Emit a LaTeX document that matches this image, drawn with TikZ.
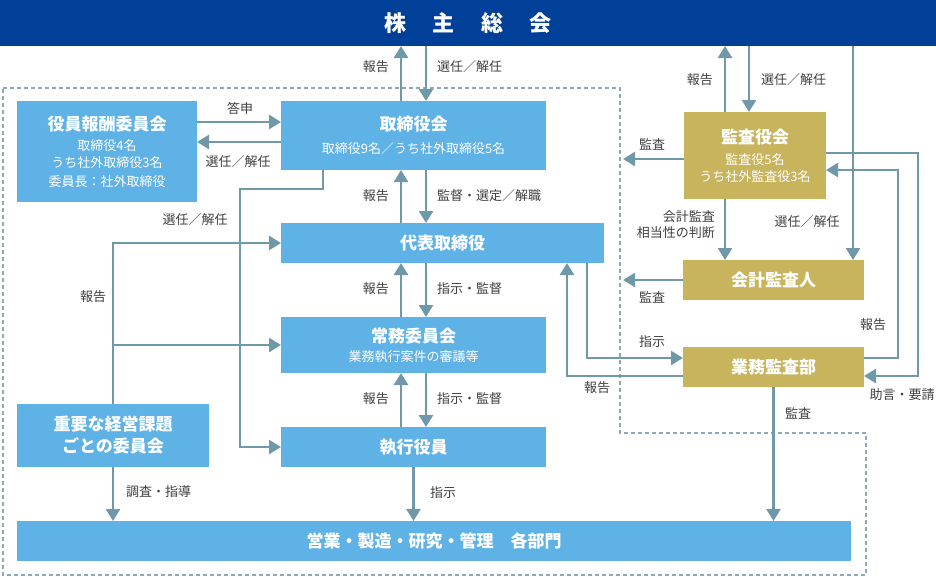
\documentclass[tikz,border=0pt]{standalone}
\usepackage{fontspec}
\setmainfont{Noto Sans CJK JP}
\usepackage{tikz}
\usetikzlibrary{arrows.meta}
\definecolor{navy}{HTML}{004098}
\definecolor{sky}{HTML}{5EB2E6}
\definecolor{gold}{HTML}{C8B45C}
\definecolor{steel}{HTML}{6F98A8}
\definecolor{ink}{HTML}{3F3F3F}
\definecolor{frameline}{HTML}{8CAAB9}
\newcommand\boxtitle[1]{{\fontsize{17}{20}\selectfont\bfseries #1}}

\begin{document}
\begin{tikzpicture}[x=1pt,y=-1pt,
  box/.style={fill=sky,text=white,inner sep=0pt,outer sep=0pt,align=center,
    font=\fontsize{13}{17}\selectfont},
  gbox/.style={box,fill=gold},
  arr/.style={draw=steel,line width=2.6pt,-{Triangle[width=14pt,length=12pt]}},
  lbl/.style={text=ink,inner sep=0pt,align=right,font=\fontsize{13}{16}\selectfont},
  frame/.style={draw=frameline,line width=1.2pt,dash pattern=on 4pt off 3pt}]
\useasboundingbox (0,0) rectangle (936,576);
\draw[frame] (3,88) -- (620,88) -- (620,433) -- (866,433) -- (866,575) -- (3,575) -- cycle;

\node[box,fill=navy,minimum width=936pt,minimum height=46pt] (gm) at (468,23)
  {\fontsize{22}{24}\selectfont\bfseries 株\hspace{1.2em}主\hspace{1.2em}総\hspace{1.2em}会};
\node[box,minimum width=180pt,minimum height=101pt] (remun) at (107,151.5)
  {\boxtitle{役員報酬委員会}\\[3pt]取締役4名\\うち社外取締役3名\\[2pt]委員長：社外取締役};
\node[box,minimum width=265pt,minimum height=69pt] (board) at (413.5,135.5)
  {\boxtitle{取締役会}\\[6pt]取締役9名／うち社外取締役5名};
\node[box,minimum width=323pt,minimum height=40pt] (rep) at (442.5,243) {\boxtitle{代表取締役}};
\node[box,minimum width=265pt,minimum height=56pt] (exec) at (413.5,345)
  {\boxtitle{常務委員会}\\[2pt]業務執行案件の審議等};
\node[box,minimum width=265pt,minimum height=40pt] (officer) at (413.5,447) {\boxtitle{執行役員}};
\node[box,minimum width=192pt,minimum height=63pt] (issues) at (113,435.5)
  {\boxtitle{重要な経営課題}\\[5pt]\boxtitle{ごとの委員会}};
\node[box,minimum width=834pt,minimum height=40pt] (depts) at (434,541)
  {\boxtitle{営業・製造・研究・管理　各部門}};
\node[gbox,minimum width=142pt,minimum height=87pt] (audit) at (755,155.5)
  {\boxtitle{監査役会}\\[4pt]監査役5名\\うち社外監査役3名};
\node[gbox,minimum width=181pt,minimum height=40pt] (acct) at (773.5,280) {\boxtitle{会計監査人}};
\node[gbox,minimum width=181pt,minimum height=40pt] (internal) at (773.5,367) {\boxtitle{業務監査部}};

\coordinate (up) at (401,0);
\coordinate (dn) at (426,0);
\coordinate (aup) at (725,0);
\coordinate (adn) at (749,0);
\coordinate (acol) at (853,0);
\coordinate (pick) at (323,0);
\coordinate (ans) at (0,122);
\coordinate (ret) at (0,142);
\coordinate (aud) at (623,159);
\coordinate (advs) at (0,153);
\coordinate (adv) at (918,376);
\coordinate (arpt) at (898,170);
\coordinate (irpt) at (0,358);
\coordinate (cmd) at (587,358);
\coordinate (back) at (567,376);

\draw[arr] (board.north -| up) -- (gm.south -| up);
\draw[arr] (gm.south -| dn) -- (board.north -| dn);
\draw[arr] (rep.north -| up) -- (board.south -| up);
\draw[arr] (board.south -| dn) -- (rep.north -| dn);
\draw[arr] (exec.north -| up) -- (rep.south -| up);
\draw[arr] (rep.south -| dn) -- (exec.north -| dn);
\draw[arr] (officer.north -| up) -- (exec.south -| up);
\draw[arr] (exec.south -| dn) -- (officer.north -| dn);
\draw[arr] (officer.south) -- (depts.north -| officer.south);
\draw[arr] (remun.east |- ans) -- (board.west |- ans);
\draw[arr] (board.west |- ret) -- (remun.east |- ret);
\draw[arr] (board.south -| pick) -- ++(0,19) -- ++(-83,0) |- (officer.west);
\draw[arr] (issues.north) |- (rep.west);
\draw[arr] (issues.north) |- (exec.west);
\draw[arr] (issues.south) -- (depts.north -| issues.south);
\draw[arr] (audit.north -| aup) -- (gm.south -| aup);
\draw[arr] (gm.south -| adn) -- (audit.north -| adn);
\draw[arr] (gm.south -| acol) -- (acct.north -| acol);
\draw[arr] (audit.south -| aup) -- (acct.north -| aup);
\draw[arr] (audit.west |- aud) -- (aud);
\draw[arr] (acct.west) -- (acct.west -| aud);
\draw[arr] (audit.east |- advs) -| (adv) -- (internal.east |- adv);
\draw[arr] (internal.east |- irpt) -| (arpt) -- (audit.east |- arpt);
\draw[arr] (rep.south -| cmd) |- (internal.west |- cmd);
\draw[arr] (internal.west |- back) -| (rep.south -| back);
\draw[arr] (internal.south) -- (depts.north -| internal.south);

\node[lbl,anchor=east] (rptGm) at (389,67) {報告};
\node[lbl,anchor=west] (selGm) at (437,67) {選任／解任};
\node[lbl,anchor=east] (rptAud) at (713,80) {報告};
\node[lbl,anchor=west] (selAud) at (761,80) {選任／解任};
\node[lbl] (ansRem) at (240,108) {答申};
\node[lbl] (selRem) at (238,162) {選任／解任};
\node[lbl] (chkAud) at (652,144) {監査};
\node[lbl,anchor=east] (rptRep) at (389,196) {報告};
\node[lbl,anchor=west] (supRep) at (437,196) {監督・選定／解職};
\node[lbl,anchor=east] (judAcct) at (715,225) {会計監査\\相当性の判断};
\node[lbl] (selAcct) at (807,222) {選任／解任};
\node[lbl] (selOff) at (195,220) {選任／解任};
\node[lbl,anchor=east] (rptExec) at (389,289) {報告};
\node[lbl,anchor=west] (cmdExec) at (437,289) {指示・監督};
\node[lbl] (rptIss) at (93,297) {報告};
\node[lbl] (chkAcct) at (652,297) {監査};
\node[lbl] (rptInt) at (873,325) {報告};
\node[lbl] (cmdInt) at (652,342) {指示};
\node[lbl] (rptBack) at (597,388) {報告};
\node[lbl] (advInt) at (902,395) {助言・要請};
\node[lbl,anchor=east] (rptOff) at (389,399) {報告};
\node[lbl,anchor=west] (cmdOff) at (437,399) {指示・監督};
\node[lbl] (chkInt) at (798,413) {監査};
\node[lbl,anchor=west] (invIss) at (126,492) {調査・指導};
\node[lbl,anchor=west] (cmdDep) at (430,493) {指示};
\end{tikzpicture}
\end{document}
